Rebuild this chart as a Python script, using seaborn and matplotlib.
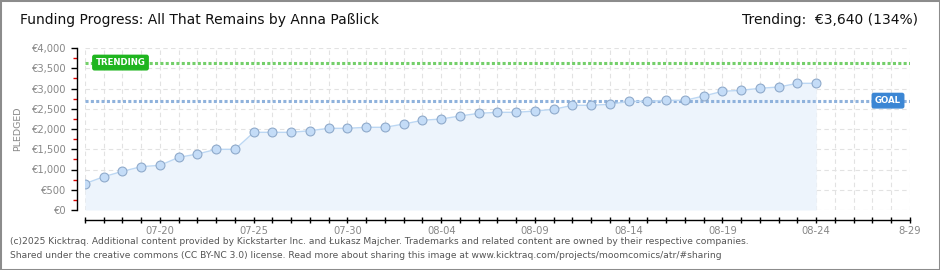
import matplotlib
matplotlib.use("Agg")
import matplotlib.pyplot as plt
import matplotlib.transforms as mtransforms
from matplotlib.patches import Rectangle
import pandas as pd
import seaborn as sns

# ---------------- data ----------------
dates = ["07-16", "07-17", "07-18", "07-19", "07-20", "07-21", "07-22", "07-23",
         "07-24", "07-25", "07-26", "07-27", "07-28", "07-29", "07-30", "07-31",
         "08-01", "08-02", "08-03", "08-04", "08-05", "08-06", "08-07", "08-08",
         "08-09", "08-10", "08-11", "08-12", "08-13", "08-14", "08-15", "08-16",
         "08-17", "08-18", "08-19", "08-20", "08-21", "08-22", "08-23", "08-24"]
pledged = [650, 822, 955, 1070, 1103, 1300, 1383, 1498,
           1498, 1918, 1918, 1918, 1958, 2017, 2017, 2042,
           2042, 2123, 2215, 2247, 2321, 2387, 2412, 2412,
           2444, 2486, 2585, 2585, 2610, 2684, 2684, 2708,
           2708, 2815, 2930, 2955, 3005, 3037, 3128, 3128]
goal = 2700
trending = 3640
x_start, x_end = "07-16", "08-29"
x_label_dates = ["07-20", "07-25", "07-30", "08-04", "08-09", "08-14", "08-19", "08-24", "08-29"]
x_label_texts = ["07-20", "07-25", "07-30", "08-04", "08-09", "08-14", "08-19", "08-24", "8-29"]
y_ticks = [0, 500, 1000, 1500, 2000, 2500, 3000, 3500, 4000]
y_tick_labels = ["€0", "€500", "€1,000", "€1,500", "€2,000", "€2,500", "€3,000", "€3,500", "€4,000"]
title = "Funding Progress: All That Remains by Anna Paßlick"
trend_text = "Trending:  €3,640 (134%)"
footer1 = ("(c)2025 Kicktraq. Additional content provided by Kickstarter Inc. and Łukasz Majcher. "
           "Trademarks and related content are owned by their respective companies.")
footer2 = ("Shared under the creative commons (CC BY-NC 3.0) license. Read more about sharing this "
           "image at www.kicktraq.com/projects/moomcomics/atr/#sharing")

# ---------------- style ----------------
sns.set_theme(style="white")
plt.rcParams['font.family'] = ['DejaVu Sans']

W, H = 940, 270
fig = plt.figure(figsize=(W / 100, H / 100), dpi=100)
fig.patch.set_facecolor("white")

L, R, T, B = 85, 910, 48, 210
ax = fig.add_axes([L / W, 1 - B / H, (R - L) / W, (B - T) / H])
ax.set_facecolor("white")

df = pd.DataFrame({"date": pd.to_datetime(["2025-" + d for d in dates]), "pledged": pledged})

ax.fill_between(df["date"], df["pledged"], 0, color="#edf4fc", lw=0, zorder=1)
sns.lineplot(data=df, x="date", y="pledged", ax=ax, color="#bcd7f3", lw=1.0,
             marker="o", markersize=6.4, markerfacecolor="#c4dcf7",
             markeredgecolor="#8faacb", markeredgewidth=0.8, zorder=4)

xs = pd.Timestamp("2025-" + x_start)
xe = pd.Timestamp("2025-" + x_end)
ax.set_xlim(xs, xe)
ax.set_ylim(0, 4000)

# reference lines
ax.axhline(trending, color="#74cf6a", lw=2.2, linestyle=(0, (1.0, 0.75)), zorder=3)
ax.axhline(goal, color="#8fb2dc", lw=2.2, linestyle=(0, (1.0, 0.75)), zorder=3)

blend = mtransforms.blended_transform_factory(ax.transAxes, ax.transData)
ax.text((120.5 - L) / (R - L), trending, "TRENDING", transform=blend, ha="center", va="center",
        color="white", fontsize=6.2, fontweight="bold", zorder=6,
        bbox=dict(boxstyle="round,pad=0.32,rounding_size=0.2", fc="#1fb51f", ec="#1fb51f"))
ax.text((888 - L) / (R - L), goal, "GOAL", transform=blend, ha="center", va="center",
        color="white", fontsize=6.2, fontweight="bold", zorder=6,
        bbox=dict(boxstyle="round,pad=0.32,rounding_size=0.2", fc="#3b86d4", ec="#3b86d4"))

# ticks
all_days = pd.date_range(xs, xe, freq="D")
lab_map = {pd.Timestamp("2025-" + d): t for d, t in zip(x_label_dates, x_label_texts)}
ax.set_xticks(all_days)
ax.set_xticklabels([lab_map.get(d, "") for d in all_days])
ax.set_yticks(y_ticks)
ax.set_yticklabels(y_tick_labels)
ax.set_yticks([v + 250 for v in y_ticks[:-1]], minor=True)

ax.tick_params(axis="x", which="major", bottom=True, direction="inout", length=5, width=1,
               color="black", labelsize=7.2, labelcolor="#888888", pad=2)
ax.tick_params(axis="y", which="major", left=True, direction="out", length=4.5, width=1,
               color="black", labelsize=7.2, labelcolor="#888888", pad=3)
ax.tick_params(axis="y", which="minor", left=True, direction="out", length=3, width=1, color="#e00000")

for s in ["top", "right"]:
    ax.spines[s].set_visible(False)
ax.spines["left"].set_position(("outward", 5.8))
ax.spines["bottom"].set_position(("outward", 7.2))
for s in ["left", "bottom"]:
    ax.spines[s].set_color("black")
    ax.spines[s].set_linewidth(1)

ax.grid(True, which="major", color="#e2e2e2", linestyle=(0, (4, 3)), linewidth=0.8)
ax.set_axisbelow(True)
ax.set_xlabel("")
ax.set_ylabel("PLEDGED", color="#888888", fontsize=6.8)
ax.yaxis.set_label_coords((22 - L) / (R - L), 0.5)

# texts
fig.text(20 / W, 1 - 20 / H, title, ha="left", va="center", fontsize=10, color="#111111")
fig.text(918 / W, 1 - 20 / H, trend_text, ha="right", va="center", fontsize=10, color="#111111")
fig.text(10 / W, 1 - 242 / H, footer1, ha="left", va="center", fontsize=6.6, color="#555555")
fig.text(10 / W, 1 - 256 / H, footer2, ha="left", va="center", fontsize=6.6, color="#555555")

fig.add_artist(Rectangle((0, 0), 1, 1, transform=fig.transFigure, fill=False,
                         ec="#8c8c8c", lw=2.2))

fig.savefig("out.png", dpi=100, facecolor="white")
